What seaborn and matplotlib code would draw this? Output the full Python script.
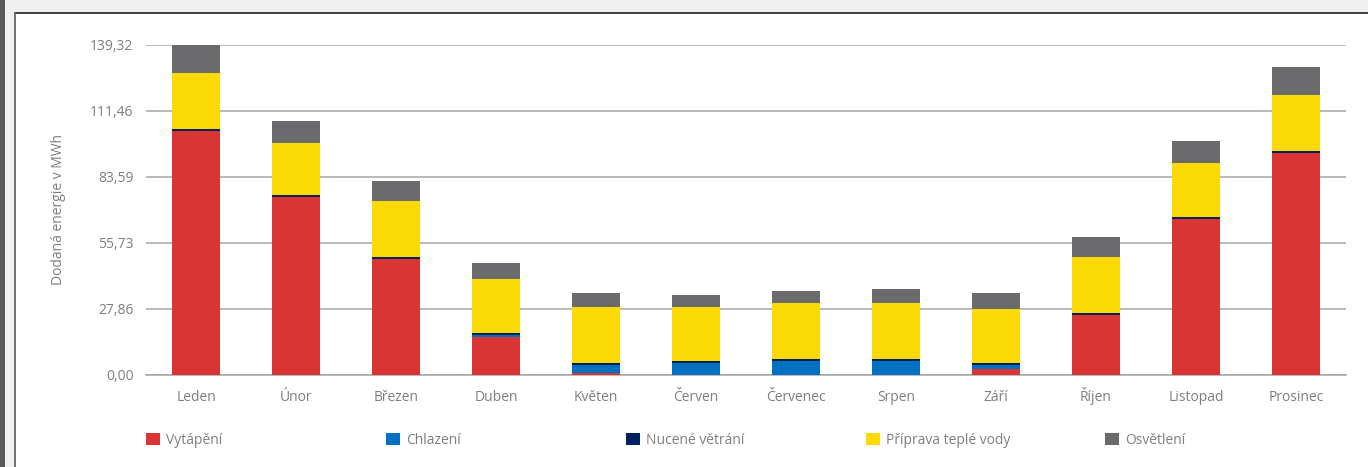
import matplotlib
matplotlib.use("Agg")
import matplotlib.pyplot as plt
import matplotlib.lines as mlines
import matplotlib.patches as mpatches
import seaborn as sns
import numpy as np
import pandas as pd

months = ["Leden", "Únor", "Březen", "Duben", "Květen", "Červen",
          "Červenec", "Srpen", "Září", "Říjen", "Listopad", "Prosinec"]

# MWh per month
vytapeni = [103.1, 75.2, 49.0, 15.8, 0.6, 0.0, 0.0, 0.0, 2.25, 25.3, 65.9, 93.8]
chlazeni = [0.0, 0.0, 0.0, 0.85, 3.4, 4.9, 5.7, 5.7, 1.7, 0.0, 0.0, 0.0]
vetrani = [0.8, 0.8, 0.8, 0.85, 0.85, 0.85, 0.85, 0.85, 0.85, 0.8, 0.8, 0.8]
tepla_voda = [23.6, 21.9, 23.6, 22.8, 23.6, 22.8, 23.6, 23.6, 22.8, 23.6, 22.8, 23.6]
osvetleni = [11.8, 9.3, 8.4, 6.8, 6.0, 5.1, 5.1, 5.9, 6.8, 8.4, 9.3, 11.8]

series_names = ["Vytápění", "Chlazení", "Nucené větrání", "Příprava teplé vody", "Osvětlení"]
series_colors = ["#D93535", "#0070C0", "#002060", "#FCDA05", "#6B6B6D"]
ytick_values = [0.0, 27.86, 55.73, 83.59, 111.46, 139.32]

sns.set_style("white")
plt.rcParams["font.family"] = ["Open Sans", "DejaVu Sans"]

W, H = 1368, 467
fig = plt.figure(figsize=(W / 100, H / 100), dpi=100, facecolor="#F0F0F0")

# white panel with dark edges, like a screenshot of a report frame
fig.add_artist(mpatches.Rectangle((16 / W, 0), 1, 1 - 13 / H, transform=fig.transFigure,
                                  facecolor="white", edgecolor="none", zorder=0))
fig.add_artist(mlines.Line2D([15 / W, 1], [1 - 13 / H, 1 - 13 / H], transform=fig.transFigure,
                             color="#333333", linewidth=1.3))
fig.add_artist(mlines.Line2D([15 / W, 15 / W], [0, 1 - 13 / H], transform=fig.transFigure,
                             color="#666666", linewidth=1.3))
fig.add_artist(mpatches.Rectangle((0, 0), 4.5 / W, 1, transform=fig.transFigure,
                                  facecolor="#5A5A5A", edgecolor="none"))

ax = fig.add_axes([146 / W, 1 - 374.5 / H, 1200 / W, 329.5 / H])
ax.set_facecolor("none")

values = np.array([vytapeni, chlazeni, vetrani, tepla_voda, osvetleni])
cumulative = np.cumsum(values, axis=0)

# draw cumulative totals from the tallest layer down so they stack visually
for i in range(len(series_names) - 1, -1, -1):
    df = pd.DataFrame({"month": months, "value": cumulative[i]})
    sns.barplot(data=df, x="month", y="value", color=series_colors[i], width=0.48,
                saturation=1, ax=ax, zorder=3, linewidth=0, edgecolor="none")

ax.set_ylim(0, 139.32)
ax.set_xlim(-0.5, 11.5)
ax.set_yticks(ytick_values)
ax.set_yticklabels([f"{v:.2f}".replace(".", ",") for v in ytick_values])
ax.grid(axis="y", color="#A6A6A6", linewidth=1.1, zorder=0)
ax.set_axisbelow(True)

for side in ["left", "right", "top"]:
    ax.spines[side].set_visible(False)
ax.spines["bottom"].set_color("#A6A6A6")
ax.spines["bottom"].set_linewidth(1.1)

ax.set_xticks(np.arange(-0.5, 12, 1), minor=True)
ax.tick_params(axis="x", which="minor", length=4, width=1.1, color="#A6A6A6", direction="out")
ax.tick_params(axis="x", which="major", length=0, pad=19, labelsize=10, labelcolor="#7F7F7F")
for lbl in ax.get_xticklabels():
    lbl.set_verticalalignment("baseline")
ax.tick_params(axis="y", length=0, pad=9, labelsize=10, labelcolor="#7F7F7F")

ax.set_xlabel("")
ax.set_ylabel("Dodaná energie v MWh", fontsize=10, color="#7F7F7F")
ax.yaxis.set_label_coords(-0.0665, 0.5)

legend_x = [146, 386, 626, 866, 1105]
for name, color, x in zip(series_names, series_colors, legend_x):
    handle = mpatches.Patch(facecolor=color, edgecolor="none", label=name)
    fig.legend(handles=[handle], loc="center left", bbox_to_anchor=(x / W, 1 - 440 / H),
               frameon=False, fontsize=10, labelcolor="#7F7F7F", handlelength=1.0,
               handleheight=1.0, handletextpad=0.45, borderpad=0, borderaxespad=0)

fig.savefig("out.png", dpi=100, facecolor=fig.get_facecolor())
